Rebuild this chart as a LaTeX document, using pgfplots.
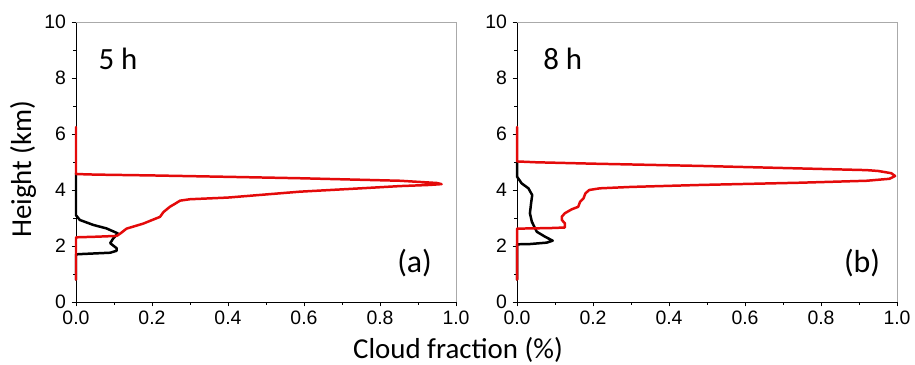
\documentclass[border=0pt]{standalone}
\usepackage{pgfplots}
\pgfplotsset{compat=1.18}
\usepackage{fontspec}
\setmainfont{Carlito}
\newfontfamily\arialf{Liberation Sans}
\definecolor{cred}{RGB}{228,10,10}
\definecolor{boxgray}{RGB}{170,170,170}
\pgfplotsset{
  panel/.style={
    scale only axis, width=380bp, height=280bp,
    xmin=0, xmax=1, ymin=0, ymax=10,
    axis x line*=bottom, axis y line*=left,
    axis line style={line width=1pt, black},
    tick align=outside,
    xtick={0,0.2,...,1.0}, ytick={0,2,...,10},
    minor x tick num=1, minor y tick num=1,
    major tick length=4.5bp, minor tick length=3bp,
    every tick/.style={black, line width=0.8pt},
    tick label style={font=\fontsize{19.5}{20}\selectfont\arialf},
    /pgf/number format/assume math mode=true,
    xticklabel style={/pgf/number format/fixed, /pgf/number format/fixed zerofill, /pgf/number format/precision=1, yshift=-1bp},
    yticklabel style={xshift=-2bp},
    clip=false,
    every axis plot/.append style={line width=2.5pt, line join=round, line cap=round},
    after end axis/.code={
      \draw[boxgray, line width=0.8pt] (rel axis cs:0,1) -- (rel axis cs:1,1) -- (rel axis cs:1,0);
    },
  },
}
\begin{document}
\begin{tikzpicture}
\path[use as bounding box] (0,0) rectangle (915bp,365bp);
% Panel (a)
\begin{axis}[panel, at={(76bp,63bp)}, anchor=south west]
\addplot[black] coordinates {
(0,0.8) (0,1.7) (0.01,1.71) (0.09,1.76) (0.107,1.83) (0.107,1.92) (0.09,2.1) (0.098,2.27) (0.11,2.45) (0.08,2.63) (0.046,2.75) (0.01,2.93) (0,3.1) (0,4.6)
};
\addplot[cred] coordinates {
(0,0.8) (0,2.31) (0.05,2.33) (0.107,2.36) (0.116,2.44) (0.133,2.62) (0.177,2.8) (0.221,3.04) (0.23,3.21) (0.247,3.4) (0.262,3.52) (0.274,3.62) (0.3,3.67) (0.4,3.73) (0.589,3.94) (0.75,4.06) (0.853,4.14) (0.93,4.18) (0.962,4.21) (0.95,4.25) (0.853,4.33) (0.589,4.42) (0.4,4.47) (0.2,4.52) (0.05,4.55) (0,4.57) (0,6.25)
};
\node[anchor=base west, font=\fontsize{31}{31}\selectfont] at (rel axis cs:0.05,0.83) {5 h};
\node[anchor=base west, font=\fontsize{32}{32}\selectfont, inner sep=0pt] at (rel axis cs:0.845,0.104) {(a)};
\node[rotate=90, font=\fontsize{29}{29}\selectfont] at ([xshift=-53bp, yshift=-7bp]rel axis cs:0,0.5) {Height (km)};
\end{axis}
% Panel (b)
\begin{axis}[panel, at={(517bp,63bp)}, anchor=south west]
\addplot[black] coordinates {
(0,0.8) (0,2.06) (0.034,2.07) (0.078,2.12) (0.094,2.19) (0.074,2.33) (0.052,2.51) (0.039,2.87) (0.034,3.17) (0.037,3.52) (0.04,3.82) (0.03,4.06) (0.012,4.24) (0,4.48) (0,5.0)
};
\addplot[cred] coordinates {
(0,0.8) (0,2.62) (0.087,2.64) (0.126,2.66) (0.126,2.81) (0.118,2.93) (0.118,3.05) (0.126,3.17) (0.144,3.31) (0.161,3.4) (0.166,3.58) (0.175,3.7) (0.18,3.88) (0.19,4.0) (0.218,4.06) (0.3,4.11) (0.482,4.18) (0.745,4.26) (0.92,4.33) (0.98,4.4) (0.995,4.5) (0.985,4.6) (0.95,4.68) (0.92,4.71) (0.745,4.77) (0.482,4.86) (0.2,4.94) (0.05,4.99) (0,5.02) (0,6.25)
};
\node[anchor=base west, font=\fontsize{31}{31}\selectfont] at (rel axis cs:0.06,0.83) {8 h};
\node[anchor=base west, font=\fontsize{32}{32}\selectfont, inner sep=0pt] at (rel axis cs:0.86,0.104) {(b)};
\end{axis}
\node[anchor=base, font=\fontsize{29}{29}\selectfont] at (458bp,7bp) {Cloud fraction (\%)};
\end{tikzpicture}
\end{document}
